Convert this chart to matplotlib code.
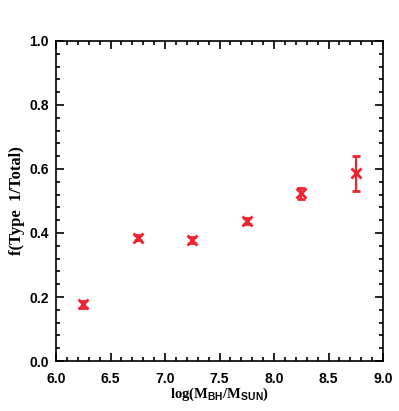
import matplotlib
matplotlib.use("Agg")
import matplotlib.pyplot as plt
from matplotlib.ticker import MultipleLocator

plt.rcParams["mathtext.fontset"] = "custom"
plt.rcParams["mathtext.bf"] = "Liberation Sans:weight=bold"
plt.rcParams["mathtext.rm"] = "Liberation Serif:weight=bold"

mass = [6.25, 6.75, 7.25, 7.75, 8.25, 8.75]
frac = [0.177, 0.385, 0.378, 0.437, 0.524, 0.587]
err = [0.010, 0.008, 0.008, 0.009, 0.018, 0.055]

red = "#EE2530"

fig = plt.figure(figsize=(3.99, 4.11), dpi=100)
ax = fig.add_axes([56/399, 1-361/411, 327/399, 320/411])
ax.errorbar(mass, frac, yerr=err, fmt="x", color=red, ms=7, mew=2.0,
            elinewidth=1.6, capsize=3, capthick=1.6)
ax.set_xlim(6.0, 9.0)
ax.set_ylim(0.0, 1.0)
ax.xaxis.set_major_locator(MultipleLocator(0.5))
ax.xaxis.set_minor_locator(MultipleLocator(0.1))
ax.yaxis.set_major_locator(MultipleLocator(0.2))
ax.yaxis.set_minor_locator(MultipleLocator(0.04))
ax.xaxis.set_major_formatter(plt.FuncFormatter(lambda v, p: f"{v:.1f}"))
ax.yaxis.set_major_formatter(plt.FuncFormatter(lambda v, p: f"{v:.1f}"))
ax.tick_params(which="both", direction="in", top=True, right=True, width=1.2, color="black")
ax.tick_params(which="major", length=6)
ax.tick_params(which="minor", length=3)
for s in ax.spines.values():
    s.set_linewidth(1.2)
for lab in ax.get_xticklabels() + ax.get_yticklabels():
    lab.set_fontfamily("Liberation Sans")
    lab.set_fontweight("bold")
    lab.set_fontsize(10)
ax.tick_params(axis="x", pad=8)
ax.tick_params(axis="y", pad=5)
ax.set_xlabel(r"log(M$_{\mathbf{BH}}$/M$_{\mathbf{SUN}}$)", family="Liberation Serif",
              fontweight="bold", fontsize=10.5, labelpad=0)
ax.set_ylabel("f(Type  1/Total)", family="Liberation Serif", fontweight="bold",
              fontsize=12, labelpad=3)
fig.savefig("out.png", dpi=100)
